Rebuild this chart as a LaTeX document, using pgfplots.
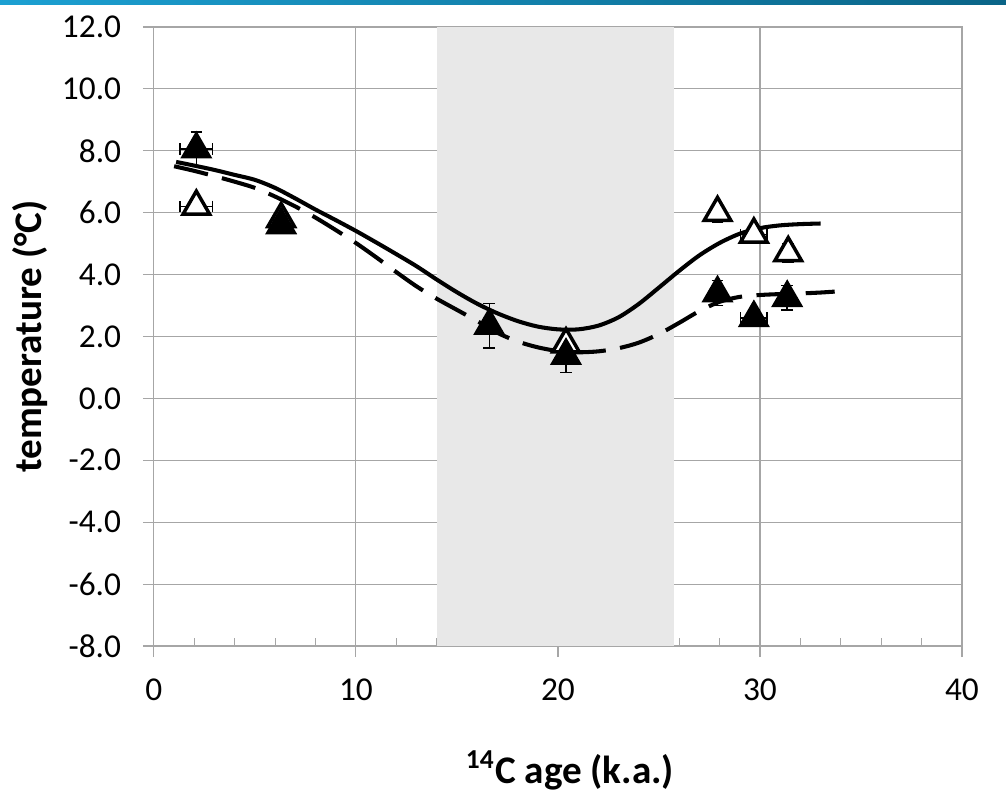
\documentclass[border=0pt]{standalone}
\usepackage{pgfplots}
\pgfplotsset{compat=1.18}
\usepackage{fontspec}
\setmainfont{Carlito}

\definecolor{gridgray}{RGB}{166,166,166}
\definecolor{band}{RGB}{232,232,232}
\definecolor{stripeL}{RGB}{28,160,210}
\definecolor{stripeR}{RGB}{10,100,135}

% open symbols: x, y, x error, y error
\pgfplotstableread{
x     y     ex    ey
2.1   6.2   0.8   0.15
6.3   5.8   0.3   0.15
20.4  1.75  0.3   0.2
27.9  6.0   0.2   0.3
29.7  5.3   0.65  0.2
31.4  4.7   0.2   0.3
}\opendata

% filled symbols
\pgfplotstableread{
x     y     ex    ey
2.1   8.05  0.8   0.55
6.3   5.6   0.2   0.15
16.6  2.35  0.2   0.72
20.4  1.38  0.4   0.55
27.9  3.4   0.3   0.4
29.7  2.6   0.65  0.25
31.35 3.25  0.2   0.4
}\filldata

% fitted curves
\pgfplotstableread{
x     y
1.1   7.64
2     7.52
3     7.38
4     7.22
5     7.06
6     6.80
7     6.46
8     6.10
9     5.76
10    5.41
11    5.04
12    4.66
13    4.27
14    3.84
15    3.43
16    3.06
17    2.75
18    2.50
19    2.32
20    2.23
21    2.23
22    2.35
23    2.62
24    3.05
25    3.58
26    4.12
27    4.62
28    5.02
29    5.32
30    5.50
31    5.59
32    5.63
33    5.65
}\solidfit

\pgfplotstableread{
x     y
1     7.50
2     7.35
3     7.18
4     7.00
5     6.80
6     6.52
7     6.20
8     5.84
9     5.44
10    5.02
11    4.56
12    4.08
13    3.62
14    3.22
15    2.86
16    2.50
17    2.12
18    1.84
19    1.65
20    1.53
21    1.49
22    1.52
23    1.62
24    1.80
25    2.08
26    2.44
27    2.82
28    3.12
29    3.28
30    3.34
31    3.37
32    3.39
33    3.42
33.7  3.45
}\dashfit

\begin{document}
\begin{tikzpicture}
\begin{axis}[
  name=ax,
  set layers,
  scale only axis,
  width=278.8pt, height=213.6pt,
  xmin=0, xmax=40, ymin=-8, ymax=12,
  xtick={0,10,20,30,40},
  minor x tick num=4,
  ytick={-8,-6,...,12},
  xtick pos=bottom, ytick pos=left,
  tick align=outside,
  major tick length=3.8pt, minor tick length=2.8pt,
  minor tick style={yshift=2.8pt},
  tick style={gridgray, line width=0.4pt},
  axis line style={gridgray, line width=0.4pt},
  xmajorgrids, ymajorgrids,
  major grid style={gridgray, line width=0.4pt},
  /pgf/number format/assume math mode=true,
  tick label style={font=\fontsize{11.5}{13}\selectfont},
  yticklabel style={/pgf/number format/fixed, /pgf/number format/fixed zerofill,
    /pgf/number format/precision=1, xshift=-4pt},
  xticklabel style={yshift=-4pt},
  xlabel={\textsuperscript{14}C age (k.a.)},
  ylabel={temperature (°C)},
  label style={font=\fontsize{13.5}{16}\selectfont\bfseries},
  xlabel style={at={(axis description cs:0.515,-0.2003)}, anchor=center},
  ylabel style={at={(axis description cs:-0.1535,0.5)}, anchor=center},
]
\fill[band, on layer=axis background] (axis cs:14,-8) rectangle (axis cs:25.75,12);

\addplot[only marks, mark=triangle*, mark size=5.3pt,
  mark options={solid, fill=white, draw=black, line width=1.2pt},
  error bars/.cd, x dir=both, x explicit, y dir=both, y explicit,
  error bar style={black, line width=0.5pt},
  error mark options={rotate=90, mark size=2pt, line width=0.5pt}]
  table[x=x, y=y, x error=ex, y error=ey] {\opendata};

\addplot[only marks, mark=triangle*, mark size=5.8pt,
  mark options={solid, fill=black, draw=black, line width=0.6pt},
  error bars/.cd, x dir=both, x explicit, y dir=both, y explicit,
  error bar style={black, line width=0.5pt},
  error mark options={rotate=90, mark size=2pt, line width=0.5pt}]
  table[x=x, y=y, x error=ex, y error=ey] {\filldata};

\addplot[black, line width=1.4pt, smooth, no markers] table[x=x, y=y] {\solidfit};

\addplot[black, line width=1.4pt, smooth, no markers, dash pattern=on 12pt off 5pt]
  table[x=x, y=y] {\dashfit};
\end{axis}
\shade[left color=stripeL, right color=stripeR]
  ([shift={(-53.1pt,221.2pt)}]ax.south west) rectangle ++(347.1pt,1.7pt);
\path[use as bounding box]
  ([shift={(-53.1pt,-52.8pt)}]ax.south west) rectangle ++(347.1pt,275.7pt);
\end{tikzpicture}
\end{document}
